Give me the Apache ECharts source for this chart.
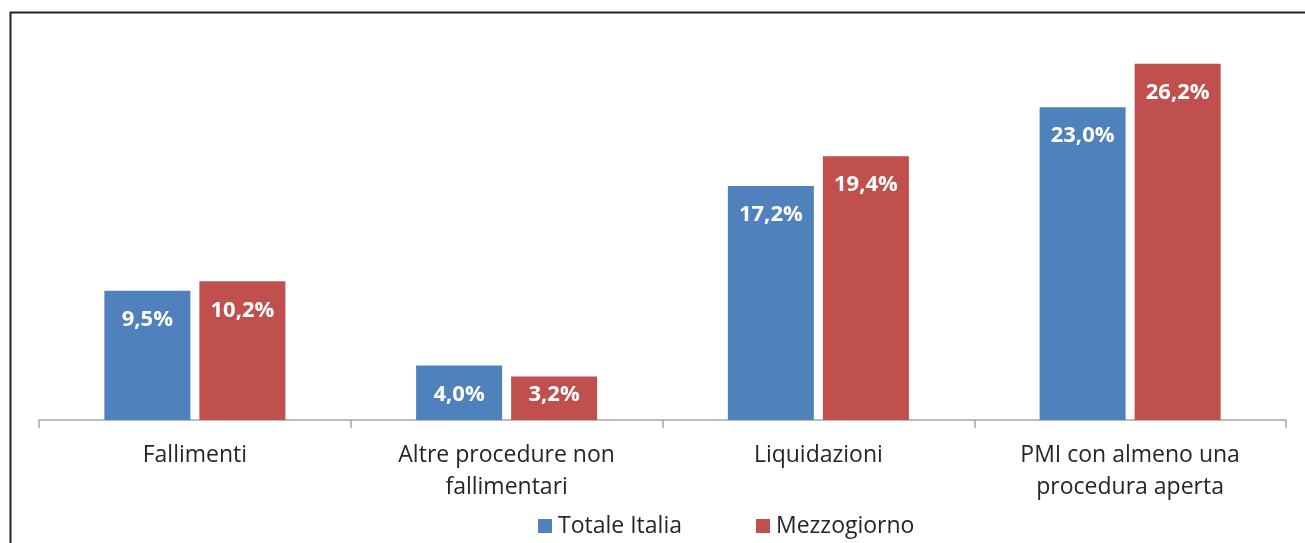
<!DOCTYPE html>
<html>
<head>
<meta charset="utf-8">
<script src="https://cdn.jsdelivr.net/npm/echarts@6/dist/echarts.min.js"></script>
<style>
  html, body { margin: 0; padding: 0; background: #fff; }
  #chart { width: 1305px; height: 543px; }
</style>
</head>
<body>
<div id="chart"></div>
<script>
// categorie e valori (%)
const categories = [
  'Fallimenti',
  'Altre procedure non\nfallimentari',
  'Liquidazioni',
  'PMI con almeno una\nprocedura aperta'
]
const totaleItalia = [9.5, 4.0, 17.2, 23.0]
const mezzogiorno = [10.2, 3.2, 19.4, 26.2]

const textColor = '#262626'

function fmt(v) {
  return v.toFixed(1).replace('.', ',') + '%'
}

// barre corte: etichetta piu' vicina al bordo superiore
function toData(arr) {
  return arr.map(v => {
    if (v < 3.5) return { value: v, label: { distance: 7 } }
    return v
  })
}

function initSeries(name, data, color) {
  return {
    name,
    type: 'bar',
    data: toData(data),
    barWidth: 86,
    barGap: '10.5%',
    itemStyle: { color },
    label: {
      show: true,
      position: 'insideTop',
      distance: 18,
      color: '#fff',
      fontFamily: 'Open Sans',
      fontWeight: 'bold',
      fontSize: 22,
      formatter: p => fmt(p.value)
    }
  }
}

const chart = echarts.init(document.getElementById('chart'))

const option = {
  animation: false,
  grid: {
    top: 12,
    left: 39,
    right: 19,
    bottom: 123
  },
  legend: {
    left: 533,
    top: 508,
    itemWidth: 14,
    itemHeight: 14,
    itemGap: 74,
    icon: 'rect',
    textStyle: {
      color: textColor,
      fontFamily: 'Open Sans',
      fontSize: 23,
      lineHeight: 26,
      padding: [0, 0, 0, 1]
    },
    data: ['Totale Italia', 'Mezzogiorno']
  },
  xAxis: {
    type: 'category',
    data: categories,
    axisLine: { lineStyle: { color: '#a6a6a6', width: 1.5 } },
    axisTick: { show: true, length: 8, lineStyle: { color: '#a6a6a6', width: 1.5 } },
    axisLabel: {
      color: textColor,
      fontFamily: 'Open Sans',
      fontSize: 23,
      lineHeight: 32,
      margin: 19,
      interval: 0
    }
  },
  yAxis: {
    type: 'value',
    min: 0,
    max: 30,
    show: false,
    splitLine: { show: false }
  },
  graphic: [{
    // cornice del grafico (solo lato sinistro e superiore visibili)
    type: 'rect',
    shape: { x: 10.5, y: 12.5, width: 1400, height: 600 },
    style: { fill: 'none', stroke: '#222', lineWidth: 2 },
    silent: true
  }],
  series: [
    initSeries('Totale Italia', totaleItalia, '#4f81bd'),
    initSeries('Mezzogiorno', mezzogiorno, '#c0504d')
  ]
}

chart.setOption(option)
</script>
</body>
</html>
